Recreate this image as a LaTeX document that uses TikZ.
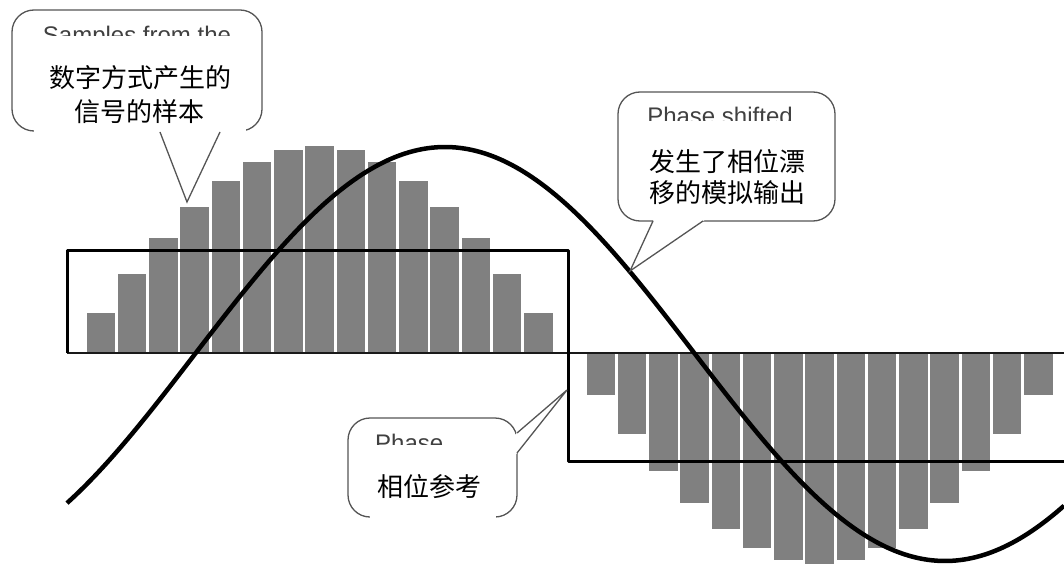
\documentclass[tikz,border=0pt]{standalone}
\usepackage{fontspec}
\setmainfont{Liberation Sans}
\newfontfamily\cjkfont{Noto Sans CJK SC}
\definecolor{bargray}{HTML}{808080}
\definecolor{bubgray}{HTML}{555555}
\definecolor{engray}{HTML}{404040}
\begin{document}
\begin{tikzpicture}[x=1pt,y=-1pt,
  barbox/.style={fill=bargray},
  sqline/.style={line width=3pt, black, line join=round},
  baseln/.style={line width=2pt, black!90},
  sinec/.style={line width=4.5pt, black},
  bubble/.style={draw=bubgray, line width=1.3pt, fill=white, rounded corners=22pt},
  ptr/.style={draw=bubgray, line width=1.3pt, line join=miter},
  entext/.style={inner sep=0pt, text=engray, font=\fontsize{24}{24}\selectfont},
  cntext/.style={inner sep=0pt, font=\cjkfont\fontsize{26}{26}\selectfont},
]
\useasboundingbox (0,0) rectangle (1064,569);

% sample bars
\foreach \k in {1,...,15}{
  \pgfmathsetmacro\h{207*sin(180*\k/16)}
  \fill[barbox] ({55.25+31.25*\k},353) rectangle ++(28.5,-\h);
  \fill[barbox] ({555.25+31.25*\k},354) rectangle ++(28.5,{1.015*\h});
}

% reference square wave and baseline
\coordinate (sqL) at (67,353);
\coordinate (sqTL) at (67,250);
\coordinate (sqTR) at (568,250);
\coordinate (sqBR) at (568,461);
\coordinate (sqE) at (1064,461);
\coordinate (baseE) at (1064,353);
\draw[baseln] (sqL) -- (baseE);
\draw[sqline] (sqE) -- (sqBR) -- (sqTR) -- (sqTL) -- (sqL);

% analog output
\draw[sinec] plot[domain=67:1064, samples=250] (\x,{354-207*sin(0.36*(\x-195))});

% callout 1
\draw[bubble] (12,10) rectangle (262,131);
\begin{scope}
  \clip (14,12) rectangle (260,36.5);
  \node[entext, anchor=base] (e1) at (137,44) {Samples from the};
\end{scope}
\fill[white] (34,36.5) rectangle (246,135);
\coordinate (t1) at (187,202);
\coordinate (p1a) at (160,132);
\coordinate (p1b) at (220,132);
\draw[ptr] (p1a) -- (t1) -- (p1b);
\node[cntext] (c1a) at (140,78) {数字方式产生的};
\node[cntext] (c1b) at (139,112) {信号的样本};

% callout 2
\draw[bubble] (618,92) rectangle (835,221);
\begin{scope}
  \clip (620,94) rectangle (833,121);
  \node[entext, anchor=base] (e2) at (720,125) {Phase shifted};
\end{scope}
\coordinate (t2) at (630,271);
\coordinate (p2a) at (653,221);
\coordinate (p2b) at (703,221);
\fill[white] (t2) -- (655.8,215) -- (711.8,215) -- cycle;
\draw[ptr] (p2a) -- (t2) -- (p2b);
\node[cntext] (c2a) at (727,162) {发生了相位漂};
\node[cntext] (c2b) at (727,193) {移的模拟输出};

% callout 3
\draw[bubble] (348,418) rectangle (517,517);
\begin{scope}
  \clip (350,420) rectangle (515,445);
  \node[entext, anchor=base west] (e3) at (375,451) {Phase};
\end{scope}
\fill[white] (370,445) rectangle (496,520);
\coordinate (t3) at (567,390);
\coordinate (p3a) at (517,433);
\coordinate (p3b) at (517,453);
\fill[white] (t3) -- (512,437.3) -- (512,459.3) -- cycle;
\draw[ptr] (p3a) -- (t3) -- (p3b);
\node[cntext, anchor=west] (c3) at (377,487) {相位参考};
\end{tikzpicture}
\end{document}
